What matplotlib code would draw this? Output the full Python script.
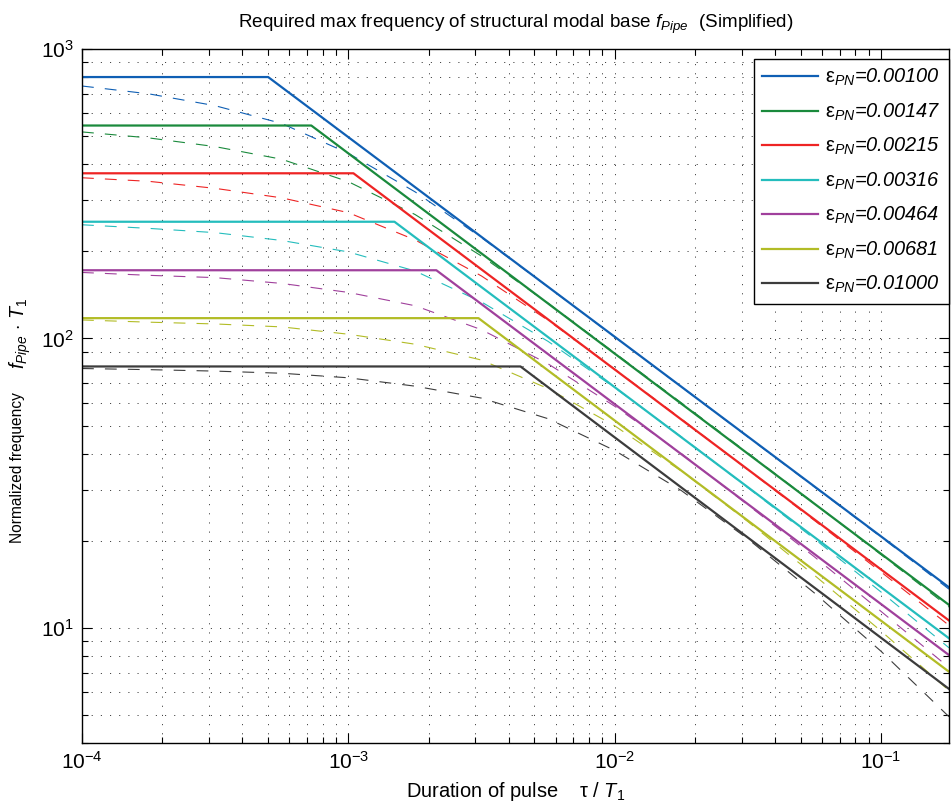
#!/usr/bin/env python3
"""Required max frequency of structural modal base (simplified), log-log chart."""

import matplotlib
matplotlib.use("Agg")
import matplotlib.pyplot as plt
from matplotlib.ticker import LogLocator, NullFormatter

plt.rcParams["font.family"] = ["Liberation Sans", "DejaVu Sans"]
plt.rcParams["mathtext.fontset"] = "custom"
plt.rcParams["mathtext.rm"] = "Liberation Sans"
plt.rcParams["mathtext.it"] = "Liberation Sans:italic"
plt.rcParams["mathtext.bf"] = "Liberation Sans:bold"
plt.rcParams["lines.scale_dashes"] = False

# strain levels (legend)
EPS = ["0.00100", "0.00147", "0.00215", "0.00316", "0.00464", "0.00681", "0.01000"]
COLORS = ["#0F5FB4", "#1A8A3C", "#EE2424", "#24BDBD", "#A0409C", "#B2BC26", "#3C3C3C"]

# simplified (solid) curves: plateau, knee position, value at right end
X_START = 1e-4
X_END = 0.18
FLAT = [800, 544, 372, 253, 172, 117.5, 80]
KNEE = [5.0e-4, 7.26e-4, 1.045e-3, 1.49e-3, 2.14e-3, 3.08e-3, 4.43e-3]
END = [13.8, 12.0, 10.6, 9.2, 8.05, 7.05, 6.15]

# full (dashed) curves
DASH_X = [1e-4, 1.78e-4, 3.16e-4, 5.62e-4, 1e-3, 1.78e-3, 3.16e-3,
          5.62e-3, 1e-2, 1.78e-2, 3.16e-2, 5.62e-2, 0.1, 0.18]
DASH_BLUE = [745, 700, 637, 553, 436, 321, 223, 150.6, 101.2, 68.0, 45.7, 30.7, 20.6, 13.6]
DASH_GREEN = [517, 493, 460, 416, 348, 268, 192.6, 132.4, 89.1, 59.9, 40.2, 26.9, 17.9, 11.8]
DASH_RED = [359, 349, 330, 306, 272, 219, 164.4, 115.5, 78.3, 52.7, 35.2, 23.5, 15.6, 10.2]
DASH_CYAN = [247, 240, 232, 218, 199, 171, 133.7, 97.7, 67.6, 45.7, 30.5, 20.3, 13.3, 8.53]
DASH_MAGENTA = [169, 165.2, 162.2, 154.9, 144.2, 129.7, 107.2, 81.7, 58.3, 40.0, 26.6, 17.6, 11.4, 7.29]
DASH_YELLOW = [115.8, 113.8, 112.2, 109.6, 103.4, 95.5, 84.2, 67.1, 49.9, 34.8, 23.3, 15.2, 9.75, 6.07]
DASH_BLACK = [78.7, 78.0, 77.1, 75.8, 73.1, 68.4, 62.2, 52.8, 41.0, 29.8, 20.3, 13.2, 8.30, 4.93]
DASHED = [DASH_BLUE, DASH_GREEN, DASH_RED, DASH_CYAN, DASH_MAGENTA, DASH_YELLOW, DASH_BLACK]


def main():
    fig = plt.figure(figsize=(9.51, 8.05), dpi=100)
    ax = fig.add_axes([82 / 951, 62 / 805, 867 / 951, 694 / 805])

    handles = []
    for i, eps in enumerate(EPS):
        h, = ax.plot([X_START, KNEE[i], X_END], [FLAT[i], FLAT[i], END[i]],
                     color=COLORS[i], lw=1.6, label=r"$\mathrm{\varepsilon}_{PN}$=" + eps)
        handles.append(h)
        ax.plot(DASH_X, DASHED[i], color=COLORS[i], lw=0.8, dashes=(8.5, 8.0))

    ax.set_xscale("log")
    ax.set_yscale("log")
    ax.set_xlim(1e-4, X_END)
    ax.set_ylim(4, 1000)

    for axis in (ax.xaxis, ax.yaxis):
        axis.set_major_locator(LogLocator(base=10))
        axis.set_minor_locator(LogLocator(base=10, subs=range(2, 10)))
        axis.set_minor_formatter(NullFormatter())

    ax.tick_params(which="both", direction="in", top=True, right=True, width=0.8)
    ax.tick_params(which="major", length=7, labelsize=15, pad=6)
    ax.tick_params(which="minor", length=4)
    ax.grid(True, which="both", color="#222222", lw=0.6, linestyle=(0, (0.8, 5.8)))
    for sp in ax.spines.values():
        sp.set_linewidth(1.0)
        sp.set_color("black")

    ax.set_title(r"Required max frequency of structural modal base $f_{Pipe}$  (Simplified)",
                 fontsize=13.6, pad=15)
    ax.set_xlabel(r"Duration of pulse    $\mathrm{\tau}$ / $T_{1}$", fontsize=14.4, labelpad=5)

    # y label in two pieces: plain words and the larger symbol part
    fig.text(18 / 951, 1 - 468 / 805, "Normalized frequency", rotation=90,
             ha="center", va="center", fontsize=11.2)
    fig.text(20 / 951, 1 - 333 / 805, r"$f_{Pipe}$ $\cdot$ $T_{1}$", rotation=90,
             ha="center", va="center", fontsize=14.2)

    leg = ax.legend(handles=handles, loc="upper right", bbox_to_anchor=(1.0, 0.986),
                    borderaxespad=0.0, fancybox=False, framealpha=1.0,
                    edgecolor="black", handlelength=2.8, handletextpad=0.35,
                    borderpad=0.42, labelspacing=0.66,
                    prop={"style": "italic", "size": 14.4})
    leg.get_frame().set_linewidth(1.0)

    fig.savefig("out.png", dpi=100)
    plt.close(fig)


if __name__ == "__main__":
    main()
